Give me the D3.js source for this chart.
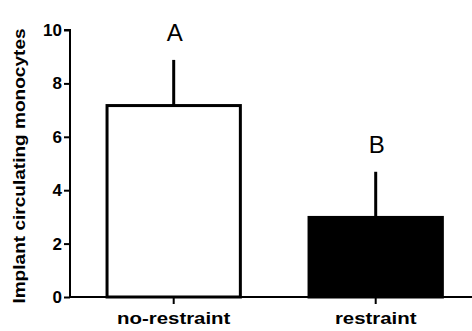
<!DOCTYPE html>
<html><head><meta charset="utf-8">
<script src="https://cdn.jsdelivr.net/npm/d3@7"></script>
<style>body{margin:0;background:#fff}svg{display:block}text{font-family:"Liberation Sans",Arial,sans-serif}</style>
</head><body><div id="c"></div>
<script>
const categories = ["no-restraint", "restraint"];
const means = [7.17, 2.98];
const errors = [1.71, 1.71];
const letters = ["A", "B"];
const fills = ["#ffffff", "#000000"];
const yTicks = [0, 2, 4, 6, 8, 10];
const yTitle = "Implant circulating monocytes";

const W = 472, H = 331;
const svg = d3.select("#c").append("svg").attr("width", W).attr("height", H);
const y = d3.scaleLinear().domain([0, 10]).range([297, 30]);
const x = d3.scaleBand().domain(categories).range([72.7, 476.7]).paddingInner(0.34).paddingOuter(0.17);

// bars
svg.selectAll("rect.bar").data(categories).enter().append("rect")
  .attr("x", d => x(d)).attr("width", x.bandwidth())
  .attr("y", (d, i) => y(means[i])).attr("height", (d, i) => y(0) - y(means[i]))
  .attr("fill", (d, i) => fills[i]).attr("stroke", "#000").attr("stroke-width", 3);

// error bars
svg.selectAll("line.err").data(categories).enter().append("line")
  .attr("x1", d => x(d) + x.bandwidth() / 2).attr("x2", d => x(d) + x.bandwidth() / 2)
  .attr("y1", (d, i) => y(means[i])).attr("y2", (d, i) => y(means[i] + errors[i]))
  .attr("stroke", "#000").attr("stroke-width", 3);

// letters
svg.selectAll("text.let").data(categories).enter().append("text")
  .attr("x", d => x(d) + x.bandwidth() / 2 + 1)
  .attr("y", (d, i) => y(means[i] + errors[i]) - 19)
  .attr("text-anchor", "middle").attr("font-size", 24).text((d, i) => letters[i]);

// y axis
const ya = svg.append("g").attr("transform", "translate(70,0)")
  .call(d3.axisLeft(y).tickValues(yTicks).tickSize(6).tickPadding(2).tickFormat(d3.format("d")));
ya.select(".domain").attr("stroke-width", 2).attr("d", `M-6,${y(10)}H0V${y(0)}`);
ya.selectAll(".tick line").attr("stroke-width", 2);
ya.selectAll(".tick text").attr("font-size", 17).attr("font-weight", "bold").attr("fill", "#000")
  .attr("font-family", "Liberation Sans, Arial, sans-serif");

// x axis
const xa = svg.append("g").attr("transform", `translate(0,${y(0)})`)
  .call(d3.axisBottom(x).tickSize(7).tickPadding(8));
xa.select(".domain").attr("stroke-width", 2).attr("d", `M69,0H472`);
xa.selectAll(".tick line").attr("stroke-width", 2);
xa.selectAll(".tick text").attr("font-size", 17).attr("font-weight", "bold").attr("fill", "#000")
  .attr("font-family", "Liberation Sans, Arial, sans-serif")
  .attr("transform", "scale(1.2,1)");

// y title
svg.append("text").attr("transform", `translate(24.5,166) rotate(-90) scale(1.17,1)`)
  .attr("text-anchor", "middle").attr("font-size", 16.3).attr("font-weight", "bold").text(yTitle);
</script></body></html>
